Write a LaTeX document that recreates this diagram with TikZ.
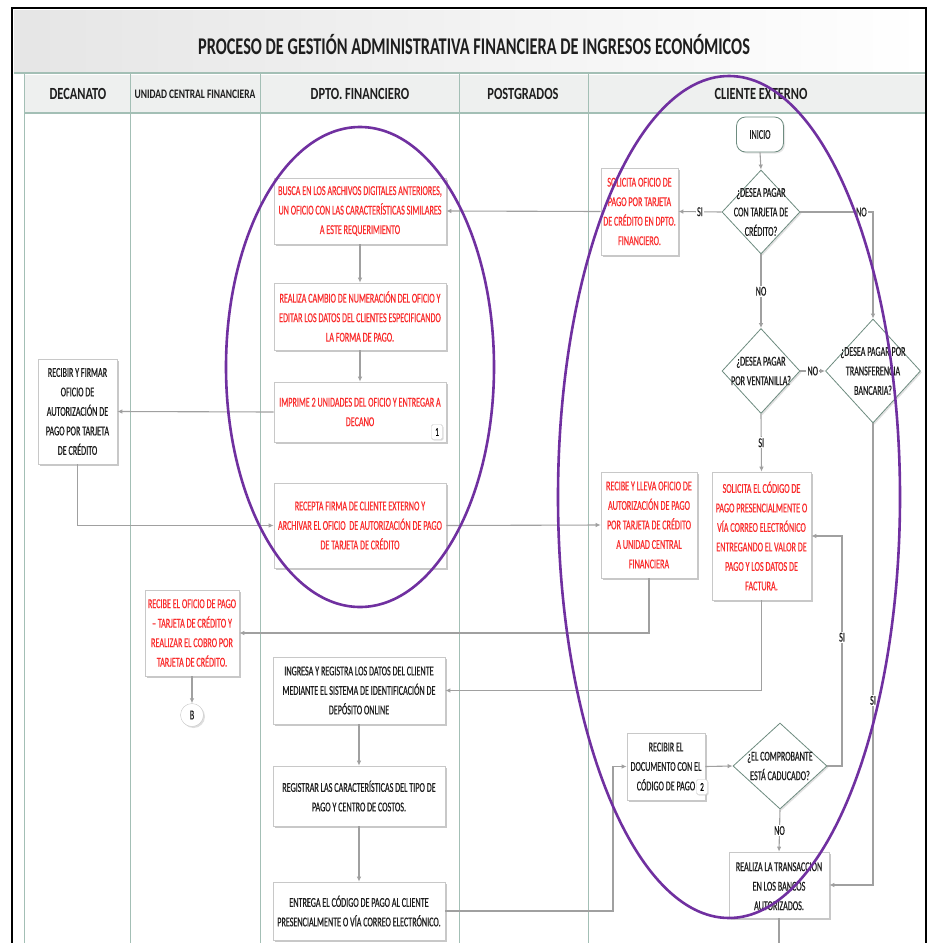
\documentclass[tikz,border=0pt]{standalone}
\usepackage{fontspec}
\setmainfont{Carlito}
\newfontfamily\narrowfont{Carlito}[FakeStretch=0.60, FakeBold=0.5]
\newfontfamily\headfont{Carlito}[FakeStretch=0.73]
\newfontfamily\titlefont{Carlito}[FakeStretch=0.68]
\usetikzlibrary{arrows.meta,shapes.geometric,shadows,calc}

\definecolor{laneline}{RGB}{163,191,181}
\definecolor{boxline}{RGB}{200,200,200}
\definecolor{decline}{RGB}{110,140,128}
\definecolor{connline}{RGB}{160,160,160}
\definecolor{redtext}{RGB}{250,45,45}
\definecolor{darktext}{RGB}{30,30,30}
\definecolor{ovalline}{RGB}{112,48,160}
\definecolor{bandfill}{RGB}{238,240,239}

\newcommand\boxfont{\narrowfont\fontsize{13.5}{19.5}\selectfont}
\newcommand\laneheadfont{\headfont\bfseries\fontsize{17}{20}\selectfont}

\tikzset{
  box/.style={draw=boxline, fill=white, line width=0.6pt,
    drop shadow={shadow xshift=1.8pt, shadow yshift=-1.8pt, fill=black!30, opacity=0.7},
    align=center, inner sep=1pt, font=\boxfont, text=darktext},
  redbox/.style={box, text=redtext},
  dec/.style={diamond, draw=decline, fill=white, line width=0.8pt, inner sep=0pt,
    drop shadow={shadow xshift=1.5pt, shadow yshift=-1.5pt, fill=black!20, opacity=0.6}},
  dectext/.style={align=center, font=\boxfont, text=darktext, inner sep=0pt},
  conn/.style={draw=connline, line width=1.1pt, -{Latex[length=5pt,width=4.5pt]}},
  plainconn/.style={draw=connline, line width=1.1pt},
  lbl/.style={fill=white, inner sep=1pt, font=\boxfont, text=darktext},
  badge/.style={draw=boxline, fill=white, rounded corners=1.5pt, inner sep=1pt,
    minimum width=11, minimum height=15, font=\narrowfont\fontsize{12}{13}\selectfont,
    drop shadow={shadow xshift=1pt, shadow yshift=-1pt, fill=black!25}},
  lanehead/.style={font=\laneheadfont, text=darktext},
  oval/.style={draw=ovalline, line width=2.6pt},
}

\begin{document}
\begin{tikzpicture}[x=1pt, y=-1pt]
\useasboundingbox (0,0) rectangle (928,943);
\fill[white] (0,0) rectangle (928,943);

% title band and lane header row
\shade[left color=black!10, right color=white] (14,10) rectangle (926,73);
\fill[bandfill] (24,75) rectangle (926,113);
\node[font=\titlefont\bfseries\fontsize{24}{28}\selectfont, text=darktext] (title) at (474,45)
  {PROCESO DE GESTIÓN ADMINISTRATIVA FINANCIERA DE INGRESOS ECONÓMICOS};

% swimlane grid
\draw[laneline, line width=1.2pt] (14,73) -- (926,73);
\draw[laneline, line width=1.2pt] (24,113) -- (926,113);
\foreach \lx in {24,130,260,459,588}
  \draw[laneline, line width=0.9pt] (\lx,73) -- (\lx,943);

\node[lanehead] (hdec) at (78,94) {DECANATO};
\node[font=\headfont\bfseries\fontsize{13}{15}\selectfont, text=darktext] (hucf) at (195,94) {UNIDAD CENTRAL FINANCIERA};
\node[lanehead] (hdpto) at (360,94) {DPTO. FINANCIERO};
\node[lanehead] (hpos) at (523,94) {POSTGRADOS};
\node[lanehead] (hcli) at (761,94) {CLIENTE EXTERNO};

% outer frame
\draw[black, line width=2.6pt] (12,943) -- (12,8) -- (926,8) -- (926,943);

% ---- DPTO. FINANCIERO ----
\node[redbox, minimum width=172, minimum height=66] (busca) at (360,211)
  {BUSCA EN LOS ARCHIVOS DIGITALES ANTERIORES,\\UN OFICIO CON LAS CARACTERÍSTICAS SIMILARES\\A ESTE REQUERIMIENTO};
\node[redbox, minimum width=172, minimum height=67] (cambio) at (360,316.5)
  {REALIZA CAMBIO DE NUMERACIÓN DEL OFICIO Y\\EDITAR LOS DATOS DEL CLIENTES ESPECIFICANDO\\LA FORMA DE PAGO.};
\node[redbox, minimum width=172, minimum height=60] (imprime) at (360,412)
  {IMPRIME 2 UNIDADES DEL OFICIO Y ENTREGAR A\\DECANO};
\node[badge] (b1) at (437,432) {1};
\node[redbox, minimum width=172, minimum height=85] (recepta) at (360,525.5)
  {RECEPTA FIRMA DE CLIENTE EXTERNO Y\\ARCHIVAR EL OFICIO \ DE AUTORIZACIÓN DE PAGO\\DE TARJETA DE CRÉDITO};
\node[box, minimum width=172, minimum height=67] (ingresa) at (359,690.5)
  {INGRESA Y REGISTRA LOS DATOS DEL CLIENTE\\MEDIANTE EL SISTEMA DE IDENTIFICACIÓN DE\\DEPÓSITO ONLINE};
\node[box, minimum width=172, minimum height=60] (registrar) at (359,796)
  {REGISTRAR LAS CARACTERÍSTICAS DEL TIPO DE\\PAGO Y CENTRO DE COSTOS.};
\node[box, minimum width=172, minimum height=58] (entrega) at (359,911)
  {ENTREGA EL CÓDIGO DE PAGO AL CLIENTE\\PRESENCIALMENTE O VÍA CORREO ELECTRÓNICO.};

% ---- DECANATO / UNIDAD CENTRAL FINANCIERA ----
\node[box, minimum width=79, minimum height=105] (firmar) at (77.5,411.5)
  {RECIBIR Y FIRMAR\\OFICIO DE\\AUTORIZACIÓN DE\\PAGO POR TARJETA\\DE CRÉDITO};
\node[redbox, minimum width=94, minimum height=86] (cobro) at (192,633)
  {RECIBE EL OFICIO DE PAGO\\– TARJETA DE CRÉDITO Y\\REALIZAR EL COBRO POR\\TARJETA DE CRÉDITO.};
\node[circle, draw=boxline, fill=white, minimum size=23, inner sep=0pt, font=\boxfont, text=darktext,
  drop shadow={shadow xshift=1.5pt, shadow yshift=-1.5pt, fill=black!25}] (conB) at (192,715) {B};

% ---- CLIENTE EXTERNO ----
\node[rounded corners=9pt, draw=decline, fill=white, line width=0.8pt, minimum width=47, minimum height=35,
  font=\boxfont, text=darktext,
  drop shadow={shadow xshift=1.5pt, shadow yshift=-1.5pt, fill=black!20}] (inicio) at (760,134.5) {INICIO};
\node[dec, minimum width=78, minimum height=84,
  label={[dectext]center:{¿DESEA PAGAR\\CON TARJETA DE\\CRÉDITO?}}] (d1) at (761,212) {};
\node[dec, minimum width=78, minimum height=85,
  label={[dectext]center:{¿DESEA PAGAR\\POR VENTANILLA?}}] (d2) at (761,371) {};
\node[dec, minimum width=95, minimum height=104,
  label={[dectext]center:{¿DESEA PAGAR POR\\TRANSFERENCIA\\BANCARIA?}}] (d3) at (873,371) {};
\node[dec, minimum width=94, minimum height=86,
  label={[dectext]center:{¿EL COMPROBANTE\\ESTÁ CADUCADO?}}] (d4) at (780,766) {};

\node[redbox, minimum width=77, minimum height=87] (solicita) at (639.5,211.5)
  {SOLICITA OFICIO DE\\PAGO POR TARJETA\\DE CRÉDITO EN DPTO.\\FINANCIERO.};
\node[redbox, minimum width=96, minimum height=106] (lleva) at (649,525)
  {RECIBE Y LLEVA OFICIO DE\\AUTORIZACIÓN DE PAGO\\POR TARJETA DE CRÉDITO\\A UNIDAD CENTRAL\\FINANCIERA};
\node[redbox, minimum width=99, minimum height=128] (codigo) at (761.5,536)
  {SOLICITA EL CÓDIGO DE\\PAGO PRESENCIALMENTE O\\VÍA CORREO ELECTRÓNICO\\ENTREGANDO EL VALOR DE\\PAGO Y LOS DATOS DE\\FACTURA.};
\node[box, minimum width=78, minimum height=67] (documento) at (666,766.5)
  {RECIBIR EL\\DOCUMENTO CON EL\\CÓDIGO DE PAGO\hspace{8pt}};
\node[badge] (b2) at (702,787) {2};
\node[box, minimum width=100, minimum height=66] (transaccion) at (779,885)
  {REALIZA LA TRANSACCIÓN\\EN LOS BANCOS\\AUTORIZADOS.};

% junction points of routed connectors
\coordinate (jEnt) at (613,766.5);
\coordinate (jCad) at (842,766);
\coordinate (endT) at (779,943);

% ---- connectors ----
\draw[conn] (inicio.south) -- (d1.north);
\draw[conn] (d1.west) -- node[lbl]{SI} (solicita.east);
\draw[conn] (d1.east) -| node[lbl, pos=0.42]{NO} (d3.north);
\draw[conn] (d1.south) -- node[lbl]{NO} (d2.north);
\draw[conn] (d2.east) -- node[lbl]{NO} (d3.west);
\draw[conn] (d2.south) -- node[lbl]{SI} (codigo.north);
\draw[conn] (solicita.west) -- (busca.east);
\draw[conn] (busca.south) -- (cambio.north);
\draw[conn] (cambio.south) -- (imprime.north);
\draw[conn] (imprime.west) -- (firmar.east);
\draw[conn] (firmar.south) |- (recepta.west);
\draw[conn] (recepta.east) -- (lleva.west);
\draw[conn] (lleva.south) |- (cobro.east);
\draw[conn] (cobro.south) -- (conB.north);
\draw[conn] (codigo.south) |- (ingresa.east);
\draw[conn] (ingresa.south) -- (registrar.north);
\draw[conn] (registrar.south) -- (entrega.north);
\draw[conn] (entrega.east) -| (jEnt) -- (documento.west);
\draw[conn] (documento.east) -- (d4.west);
\draw[conn] (d4.east) -- (jCad) |- node[lbl, pos=0.28]{SI} (codigo.east);
\draw[conn] (d4.south) -- node[lbl]{NO} (transaccion.north);
\draw[conn] (d3.south) |- node[lbl, pos=0.3]{SI} (transaccion.east);
\draw[plainconn] (transaccion.south) -- (endT);

% ---- highlight ovals ----
\draw[oval] (360,367) ellipse [x radius=134, y radius=240];
\draw[oval] (729,497) ellipse [x radius=171, y radius=421];
\end{tikzpicture}
\end{document}
